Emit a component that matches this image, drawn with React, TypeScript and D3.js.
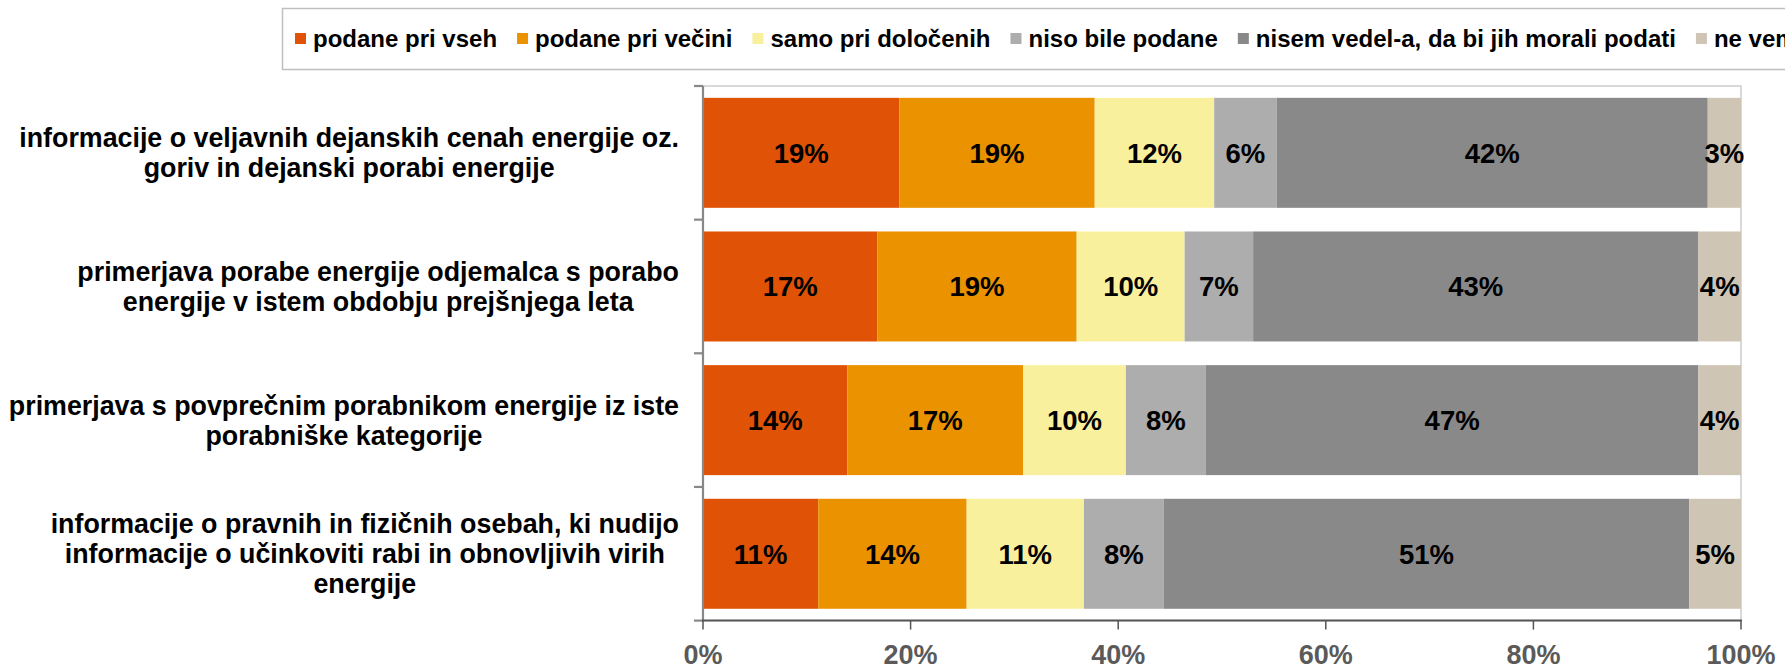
import React, { useEffect, useRef } from 'react';
import * as d3 from 'd3';

// series (legend order)
const seriesNames = [
  'podane pri vseh',
  'podane pri večini',
  'samo pri določenih',
  'niso bile podane',
  'nisem vedel-a, da bi jih morali podati',
  'ne vem',
];
const seriesColors = ['#E05206', '#EB9200', '#F9F09E', '#ADADAD', '#898989', '#CFC5B5'];

// category labels, already wrapped like the original
const categories = [
  ['informacije o veljavnih dejanskih cenah energije oz.', 'goriv in dejanski porabi energije'],
  ['primerjava porabe energije odjemalca s porabo', 'energije v istem obdobju prejšnjega leta'],
  ['primerjava s povprečnim porabnikom energije iz iste', 'porabniške kategorije'],
  ['informacije o pravnih in fizičnih osebah, ki nudijo', 'informacije o učinkoviti rabi in obnovljivih virih', 'energije'],
];

// values in % per category
const podaneVseh = [18.9, 16.8, 13.9, 11.1];
const podaneVecini = [18.8, 19.2, 16.9, 14.3];
const samoDolocenih = [11.5, 10.4, 9.9, 11.3];
const nisoPodane = [6.0, 6.6, 7.7, 7.7];
const nisemVedel = [41.5, 42.9, 47.4, 50.6];
const neVem = [3.2, 4.1, 4.1, 5.0];
const seriesValues = [podaneVseh, podaneVecini, samoDolocenih, nisoPodane, nisemVedel, neVem];

const xTicks = [0, 0.2, 0.4, 0.6, 0.8, 1];

const width = 1785;
const height = 668;
const plot = { left: 703, right: 1741, top: 86, bottom: 620.6 };
const font = '"Liberation Sans", Arial, sans-serif';

export default function App() {
  const svgRef = useRef<SVGSVGElement>(null);

  useEffect(() => {
    if (!svgRef.current) return;
    const svg = d3.select(svgRef.current);
    svg.selectAll('*').remove();

    const keys = seriesNames.map((_, j) => 's' + j);
    const rows = categories.map((_, i) => {
      const r: any = { cat: String(i) };
      keys.forEach((k, j) => (r[k] = seriesValues[j][i]));
      return r;
    });
    const stacked = d3.stack<any>().keys(keys).offset(d3.stackOffsetExpand)(rows);

    const x = d3.scaleLinear().domain([0, 1]).range([plot.left, plot.right]);
    const y = d3.scaleBand()
      .domain(categories.map((_, i) => String(i)))
      .range([plot.top, plot.bottom])
      .paddingInner(0.177)
      .paddingOuter(0.0885);

    // legend
    const legend = svg.append('g');
    legend.append('rect')
      .attr('x', 282.5).attr('y', 8.5)
      .attr('width', 1600).attr('height', 61)
      .attr('fill', '#fff').attr('stroke', '#BFBFBF').attr('stroke-width', 1.5);
    let lx = 295;
    seriesNames.forEach((name, j) => {
      legend.append('rect')
        .attr('x', lx).attr('y', 33)
        .attr('width', 11).attr('height', 11)
        .attr('fill', seriesColors[j]);
      const t = legend.append('text')
        .attr('x', lx + 18).attr('y', 47)
        .attr('font-family', font).attr('font-size', 24).attr('font-weight', 'bold')
        .attr('fill', '#000')
        .text(name);
      const w = (t.node() as SVGTextElement).getComputedTextLength();
      lx += 18 + w + 20;
    });

    // plot area border
    svg.append('rect')
      .attr('x', plot.left).attr('y', plot.top)
      .attr('width', plot.right - plot.left).attr('height', plot.bottom - plot.top)
      .attr('fill', 'none').attr('stroke', '#C0C0C0').attr('stroke-width', 1.2);

    // bars
    stacked.forEach((layer, j) => {
      const g = svg.append('g');
      layer.forEach((d: any, i) => {
        const x0 = x(d[0]);
        const x1 = x(d[1]);
        const yy = y(String(i)) as number;
        g.append('rect')
          .attr('x', x0).attr('y', yy)
          .attr('width', x1 - x0).attr('height', y.bandwidth())
          .attr('fill', seriesColors[j]);
      });
    });

    // value labels
    stacked.forEach((layer, j) => {
      layer.forEach((d: any, i) => {
        const cx = (x(d[0]) + x(d[1])) / 2;
        const cy = (y(String(i)) as number) + y.bandwidth() / 2;
        svg.append('text')
          .attr('x', cx).attr('y', cy).attr('dy', '0.36em')
          .attr('text-anchor', 'middle')
          .attr('font-family', font).attr('font-size', 27.5).attr('font-weight', 'bold')
          .attr('fill', '#000')
          .text(Math.round(seriesValues[j][i]) + '%');
      });
    });

    // left axis
    const step = y.step();
    svg.append('line')
      .attr('x1', plot.left).attr('x2', plot.left)
      .attr('y1', plot.top).attr('y2', plot.bottom)
      .attr('stroke', '#888').attr('stroke-width', 2.2);
    d3.range(categories.length + 1).forEach(k => {
      svg.append('line')
        .attr('x1', plot.left - 9).attr('x2', plot.left)
        .attr('y1', plot.top + k * step).attr('y2', plot.top + k * step)
        .attr('stroke', '#888').attr('stroke-width', 2.2);
    });

    // category labels: centred lines, block right-aligned to the axis
    const labelRight = 679;
    categories.forEach((lines, i) => {
      const cy = (y(String(i)) as number) + y.bandwidth() / 2;
      const g = svg.append('g');
      const texts = lines.map((ln, k) =>
        g.append('text')
          .attr('y', cy + (k - (lines.length - 1) / 2) * 30)
          .attr('dy', '0.36em')
          .attr('text-anchor', 'middle')
          .attr('font-family', font).attr('font-size', 26.8).attr('font-weight', 'bold')
          .attr('fill', '#000')
          .text(ln)
      );
      const maxW = d3.max(texts, t => (t.node() as SVGTextElement).getComputedTextLength()) || 0;
      texts.forEach(t => t.attr('x', labelRight - maxW / 2));
    });

    // bottom axis
    svg.append('line')
      .attr('x1', plot.left - 1).attr('x2', plot.right + 1)
      .attr('y1', plot.bottom).attr('y2', plot.bottom)
      .attr('stroke', '#555').attr('stroke-width', 2);
    xTicks.forEach(v => {
      svg.append('line')
        .attr('x1', x(v)).attr('x2', x(v))
        .attr('y1', plot.bottom).attr('y2', plot.bottom + 9)
        .attr('stroke', '#555').attr('stroke-width', 1.5);
      svg.append('text')
        .attr('x', x(v)).attr('y', 664)
        .attr('text-anchor', 'middle')
        .attr('font-family', font).attr('font-size', 27).attr('font-weight', 'bold')
        .attr('fill', '#5A5A5A')
        .text(d3.format('.0%')(v));
    });
  }, []);

  return (
    <svg
      ref={svgRef}
      width={width}
      height={height}
      style={{ position: 'absolute', left: 0, top: 0, background: '#fff' }}
    />
  );
}
